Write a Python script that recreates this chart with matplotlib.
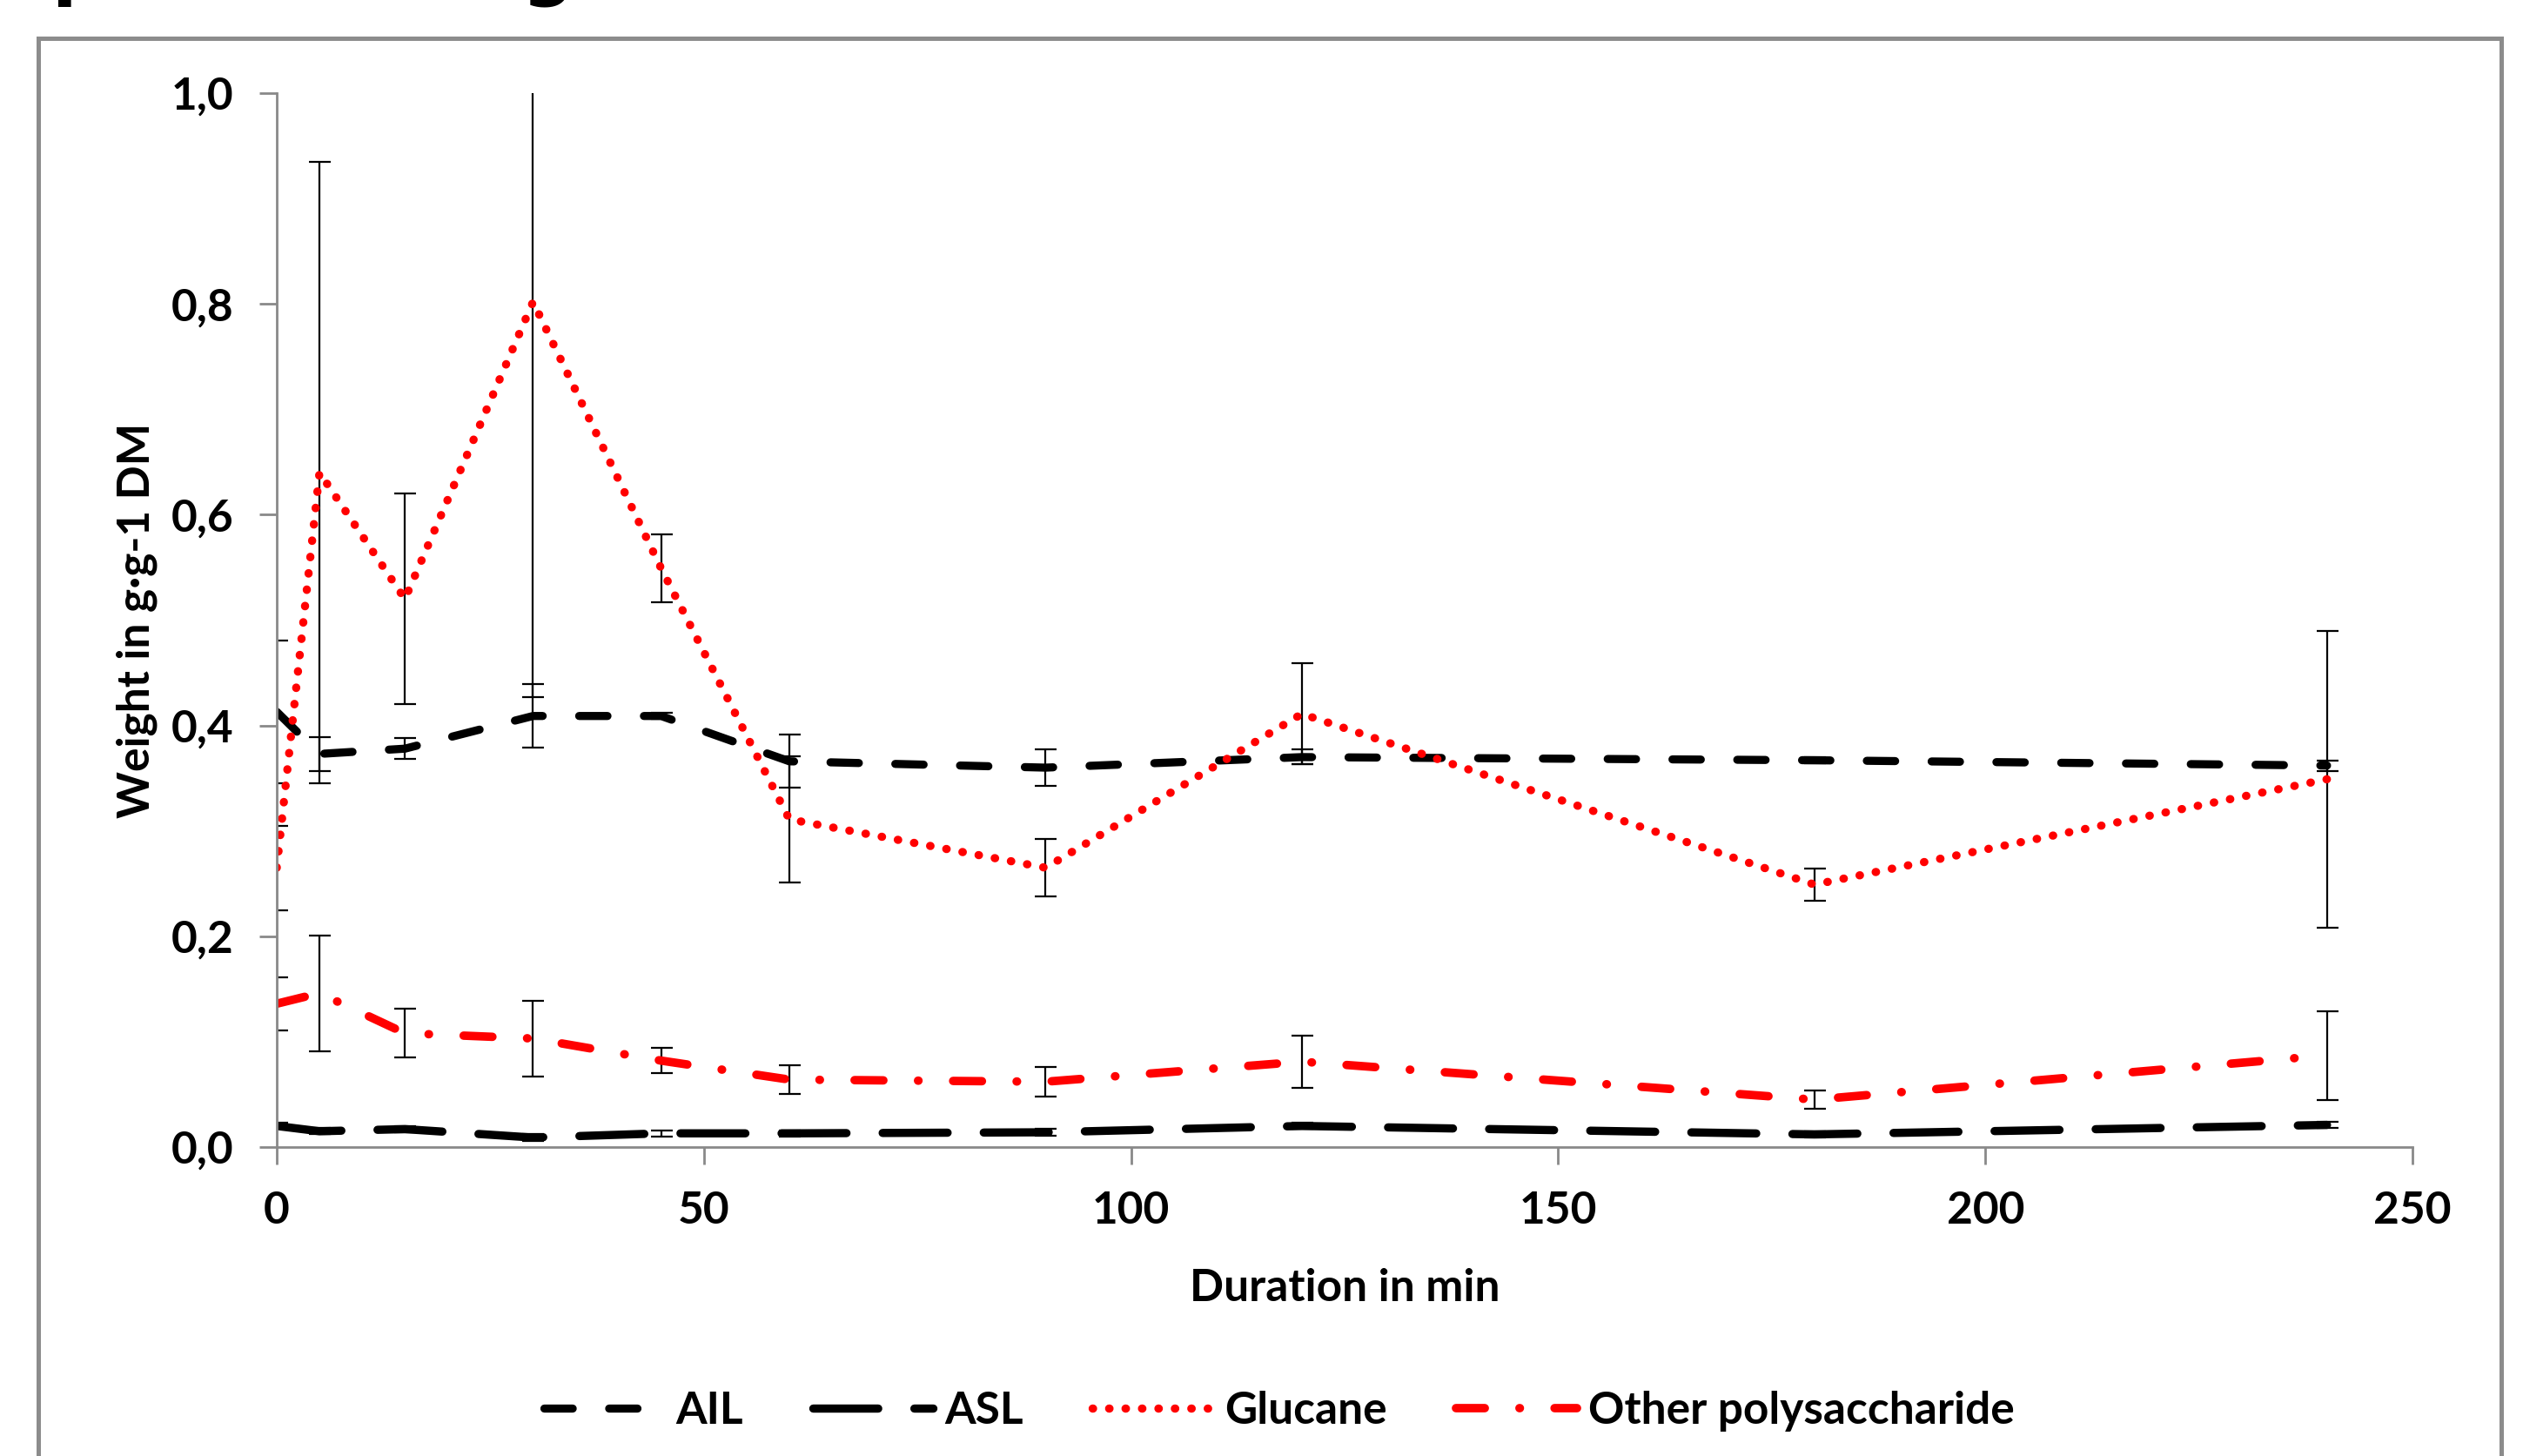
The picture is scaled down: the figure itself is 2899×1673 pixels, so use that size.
import numpy as np
import matplotlib.pyplot as plt
from matplotlib.ticker import FuncFormatter, MultipleLocator
from matplotlib.patches import Rectangle

plt.rcParams['font.family'] = ['Lato', 'DejaVu Sans']
plt.rcParams['font.weight'] = 'bold'

# data
time_min = [0, 5, 15, 30, 45, 60, 90, 120, 180, 240]
ail = [0.413, 0.373, 0.378, 0.409, 0.409, 0.366, 0.360, 0.370, 0.367, 0.362]
ail_err = [0.068, 0.016, 0.010, 0.030, 0.003, 0.025, 0.017, 0.007, 0.003, 0.005]
asl = [0.020, 0.015, 0.017, 0.009, 0.013, 0.013, 0.014, 0.020, 0.012, 0.021]
asl_err = [0.003, 0.003, 0.003, 0.003, 0.003, 0.003, 0.003, 0.003, 0.003, 0.003]
glucane = [0.265, 0.640, 0.520, 0.802, 0.549, 0.311, 0.265, 0.411, 0.249, 0.349]
glucane_err = [0.040, 0.295, 0.100, 0.375, 0.032, 0.060, 0.027, 0.048, 0.015, 0.141]
other = [0.136, 0.146, 0.108, 0.103, 0.082, 0.064, 0.062, 0.081, 0.045, 0.087]
other_err = [0.025, 0.055, 0.023, 0.036, 0.012, 0.014, 0.014, 0.025, 0.009, 0.042]

W, H = 2899, 1673
FS = 18.5
fig = plt.figure(figsize=(W / 200, H / 200), dpi=200)
ax = fig.add_axes([318 / W, 1 - 1318 / H, (2772 - 318) / W, (1318 - 107) / H])

series = [
    ("AIL", ail, ail_err, "black", 3.35, (0, (3.5, 4.5))),
    ("ASL", asl, asl_err, "black", 3.4, (0, (7.9, 4.4))),
    ("Glucane", glucane, glucane_err, "#ff0000", 3.4, (0, (0.05, 1.95))),
    ("Other polysaccharide", other, other_err, "#ff0000", 3.5, (0, (3.4, 4.1, 0.05, 4.1))),
]

for name, vals, err, col, lw, ls in series:
    ax.errorbar(time_min, vals, yerr=err, fmt='none', ecolor='black',
                elinewidth=0.8, capsize=4.5, capthick=0.8)
    ax.plot(time_min, vals, color=col, lw=lw, linestyle=ls,
            dash_capstyle='round', solid_capstyle='round', label=name)

ax.set_xlim(0, 250)
ax.set_ylim(0, 1)
ax.xaxis.set_major_locator(MultipleLocator(50))
ax.yaxis.set_major_locator(MultipleLocator(0.2))
ax.yaxis.set_major_formatter(FuncFormatter(lambda v, p: f"{v:.1f}".replace('.', ',')))

for s in ['top', 'right']:
    ax.spines[s].set_visible(False)
for s in ['left', 'bottom']:
    ax.spines[s].set_color('#898989')
    ax.spines[s].set_linewidth(1.0)
ax.tick_params(direction='out', length=7.2, width=1, color='#898989',
               labelsize=FS, pad=10.8)

ax.set_xlabel('Duration in min', fontsize=FS, fontweight='bold')
ax.xaxis.set_label_coords(0.5, -0.115)
ax.set_ylabel('Weight in g·g-1 DM', fontsize=FS, fontweight='bold')
ax.yaxis.set_label_coords(-0.056, 0.5)

fig.legend(loc='center', bbox_to_anchor=(0.507, 0.0305), ncol=4, frameon=False,
           handlelength=2.7, handletextpad=0.25, columnspacing=1.55, fontsize=FS)

# chart area border (cut off at the bottom of the picture)
fig.add_artist(Rectangle((44 / W, -0.1), (2874 - 44) / W, 1.1 - 44 / H,
                         transform=fig.transFigure, fill=False,
                         ec='#8c8c8c', lw=1.8))

# descenders of the heading above, cut off by the top edge
fig.text(60 / W, 1 + 9 / H, 'p', fontsize=30, fontweight='bold',
         family='DejaVu Sans', va='baseline', ha='left')
fig.text(629 / W, 1 + 9 / H, 'g', fontsize=30, fontweight='bold',
         family='DejaVu Sans', va='baseline', ha='center')

fig.savefig('out.png', dpi=200)
